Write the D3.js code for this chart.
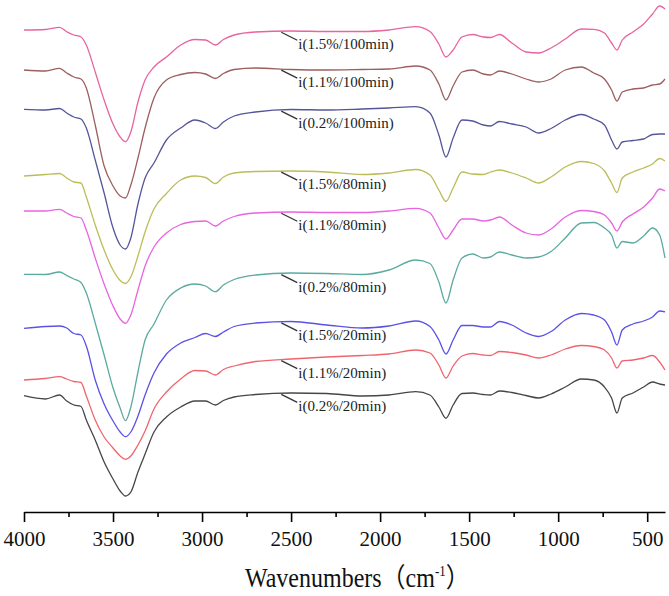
<!DOCTYPE html>
<html>
<head>
<meta charset="utf-8">
<script src="https://cdn.jsdelivr.net/npm/d3@7"></script>
<style>
  html, body { margin: 0; padding: 0; background: #fff; }
  svg { display: block; }
  text { font-family: "Liberation Serif", "Times New Roman", "Noto Sans CJK SC", serif; }
</style>
</head>
<body>
<svg id="chart" width="669" height="596"></svg>
<script>
// Wavenumber grid (cm-1)
const wavenumbers = [4000, 3880, 3800, 3760, 3720, 3680, 3650, 3600, 3550, 3500,
  3460, 3430, 3400, 3360, 3320, 3270, 3200, 3120, 3040, 2980,
  2925, 2880, 2820, 2700, 2500, 2300, 2100, 1950, 1800, 1720,
  1670, 1630, 1590, 1540, 1480, 1420, 1380, 1330, 1260, 1180,
  1110, 1040, 960, 870, 800, 740, 700, 670, 640, 580,
  520, 470, 430, 400];

// Transmittance (a.u., stacked)
const s15_100 = [482, 482.5, 484.7, 480.3, 477, 475, 467, 440, 412, 388,
  375, 370.3, 380, 410, 432, 445, 455, 467, 472.5, 472,
  467, 472.5, 477, 480, 481, 480.5, 480.5, 482, 485.3, 480.5,
  468, 455, 462, 475, 477.5, 475, 474.5, 477.5, 469, 460,
  459, 464, 473, 483, 482.7, 479, 469, 462, 472, 480,
  488, 498, 506, 503];
const s11_100 = [442, 441, 443.7, 439, 435, 433, 424, 387, 346, 326,
  316, 314, 327, 354, 384, 414, 432, 437.5, 439.5, 438,
  433.5, 438.5, 442.5, 444, 442.5, 442, 442.5, 443, 446, 442,
  428, 412, 426, 440, 442, 438, 437, 441, 438, 433,
  430, 433, 442, 445, 439, 433, 422, 411, 420, 423,
  424, 427, 428, 433];
const s02_100 = [402.7, 402, 403.5, 399, 395, 393, 384, 352, 319, 284,
  267, 263, 274, 308, 334, 349, 372, 384, 392, 389,
  383.5, 390, 396, 400, 402.5, 402, 403, 404, 405.3, 399,
  377, 355, 374, 392, 391, 387, 386, 390.5, 388, 385,
  379, 383.5, 392, 397.5, 393, 387, 372, 363, 370, 371.5,
  373, 377.5, 378, 378];
const s15_80 = [336, 337.5, 338.5, 334, 330, 329, 315, 287, 262, 242,
  231.5, 228.5, 235, 256, 280, 303, 318.5, 332, 336, 334.5,
  328.5, 335, 339, 340.5, 341, 340, 337.5, 339, 342.5, 337,
  322, 310.5, 324, 340, 338, 337.5, 340, 342, 339, 334,
  329, 335, 345, 350.5, 348.5, 341, 329, 319.5, 334, 340,
  344, 348, 353.5, 351];
const s11_80 = [301, 301, 302.7, 299, 295.5, 294, 282, 254, 228, 206,
  193, 188.7, 197, 222, 246, 265, 279, 287.5, 290.5, 291,
  286, 291, 295.5, 299, 300, 299.5, 299.5, 301, 303.7, 299,
  284, 273, 282, 293, 293, 291, 292, 295, 287, 279,
  277, 283, 295, 301.5, 300.5, 297, 289, 281, 290, 298,
  305, 314, 323, 321];
const s02_80 = [237.7, 237.5, 240, 236.5, 233, 229.5, 219, 189, 157, 124,
  104, 91.3, 105, 140, 172, 188, 212, 224, 228, 226,
  220.3, 227, 232.5, 237, 239, 238.5, 237.5, 242, 252, 248.5,
  230, 209, 232, 254, 258, 254, 255, 260, 257, 254,
  255, 260.5, 274, 289, 289.5, 284, 277, 264, 270.5, 269,
  276, 284, 277, 254];
const s15_20 = [183.7, 185.5, 186, 184, 178.5, 177, 166, 132, 108, 91,
  80, 75.3, 80, 96, 117, 139, 158, 169, 174.5, 178.5,
  175.5, 180, 185.5, 189, 190.5, 187, 184, 186, 191, 185.5,
  172, 158, 172, 186.5, 186.5, 185, 185, 190.5, 187, 179,
  175.5, 180.5, 192, 198.5, 197, 192, 180, 167, 182, 188,
  191, 195, 201, 200];
const s11_20 = [132, 133.5, 135.3, 133, 130.5, 129.5, 116, 92, 75, 64,
  56, 52.7, 56, 67, 81, 103, 120, 133, 141.5, 141,
  137, 142.5, 146, 150.5, 153, 155, 156.5, 158, 162, 159,
  147, 134, 146, 156, 158.5, 157, 156.5, 160.5, 159.5, 157,
  154, 157, 163, 166.5, 165.5, 162, 154, 144, 151, 152,
  154, 156.5, 150, 142];
const s02_20 = [116.3, 113, 117, 111, 107, 105.5, 92, 72, 50, 33,
  21, 16, 20, 40, 58, 80, 95, 105, 111, 111,
  107, 111.5, 115, 117.5, 119, 118.5, 116, 117, 120.3, 117,
  105, 93.7, 107, 118.5, 119, 117.5, 117, 121, 119.5, 116.5,
  114, 118, 125, 133, 132, 125, 114, 99, 114, 119,
  125, 130, 128, 127];

const seriesNames = ["i(1.5%/100min)", "i(1.1%/100min)", "i(0.2%/100min)",
  "i(1.5%/80min)", "i(1.1%/80min)", "i(0.2%/80min)",
  "i(1.5%/20min)", "i(1.1%/20min)", "i(0.2%/20min)"];
const seriesValues = [s15_100, s11_100, s02_100, s15_80, s11_80, s02_80, s15_20, s11_20, s02_20];
const seriesColors = ["#e8649e", "#9c5e5e", "#55559a", "#bcbc5a", "#e864e0",
  "#5aaaa0", "#5a52e6", "#f0646e", "#464646"];

const majorTicks = [4000, 3500, 3000, 2500, 2000, 1500, 1000, 500];
const minorTicks = [3750, 3250, 2750, 2250, 1750, 1250, 750];
const labelWave = 2555;
const axisTitle = "Wavenumbers\uFF08cm";
const axisTitleSup = "-1";
const axisTitleEnd = "\uFF09";

const svg = d3.select("#chart");
const x = d3.scaleLinear().domain([4000, 400]).range([24, 665]);
const y = d3.scaleLinear().domain([0, 512]).range([512, 0]);

const line = d3.line()
  .x((d, i) => x(wavenumbers[i]))
  .y(d => y(d))
  .curve(d3.curveMonotoneX);

// curves
svg.append("g").selectAll("path")
  .data(seriesValues)
  .join("path")
  .attr("d", line)
  .attr("fill", "none")
  .attr("stroke", (d, i) => seriesColors[i])
  .attr("stroke-width", 1.3)
  .attr("stroke-linejoin", "round");

// labels with leader lines
function valueAt(vals, w) {
  for (let i = 0; i < wavenumbers.length - 1; i++) {
    const a = wavenumbers[i], b = wavenumbers[i + 1];
    if (w <= a && w >= b) {
      const t = (a - w) / (a - b);
      return vals[i] + t * (vals[i + 1] - vals[i]);
    }
  }
  return vals[0];
}
const lg = svg.append("g");
seriesValues.forEach((vals, i) => {
  const x0 = x(labelWave), y0 = y(valueAt(vals, labelWave)) + 1;
  lg.append("line")
    .attr("x1", x0).attr("y1", y0)
    .attr("x2", x0 + 16).attr("y2", y0 + 8)
    .attr("stroke", "#333").attr("stroke-width", 1.3);
  lg.append("text")
    .attr("x", x0 + 17).attr("y", y0 + 17)
    .attr("font-size", 15)
    .attr("fill", "#222")
    .text(seriesNames[i]);
});

// axis
const axisG = svg.append("g").attr("transform", "translate(0,512)");
axisG.call(d3.axisBottom(x).tickValues(majorTicks).tickSize(10).tickSizeOuter(0).tickFormat(d => d));
axisG.append("g").call(d3.axisBottom(x).tickValues(minorTicks).tickSize(5).tickSizeOuter(0).tickFormat(""))
  .select(".domain").remove();
axisG.selectAll(".domain").attr("stroke", "#000").attr("stroke-width", 1.6);
axisG.selectAll(".tick line").attr("stroke", "#000").attr("stroke-width", 1.6);
axisG.selectAll(".tick text")
  .attr("font-family", "'Liberation Serif', 'Times New Roman', serif")
  .attr("font-size", 21).attr("fill", "#111").attr("y", 19).attr("dy", "0.71em");

// axis title (slightly tall lettering as in the original)
const title = svg.append("text")
  .attr("transform", "translate(245,587) scale(1,1.12)")
  .attr("font-size", 24).attr("fill", "#111");
title.append("tspan").text(axisTitle);
title.append("tspan").attr("font-size", 13).attr("dy", -10).text(axisTitleSup);
title.append("tspan").attr("dy", 10).text(axisTitleEnd);
</script>
</body>
</html>
